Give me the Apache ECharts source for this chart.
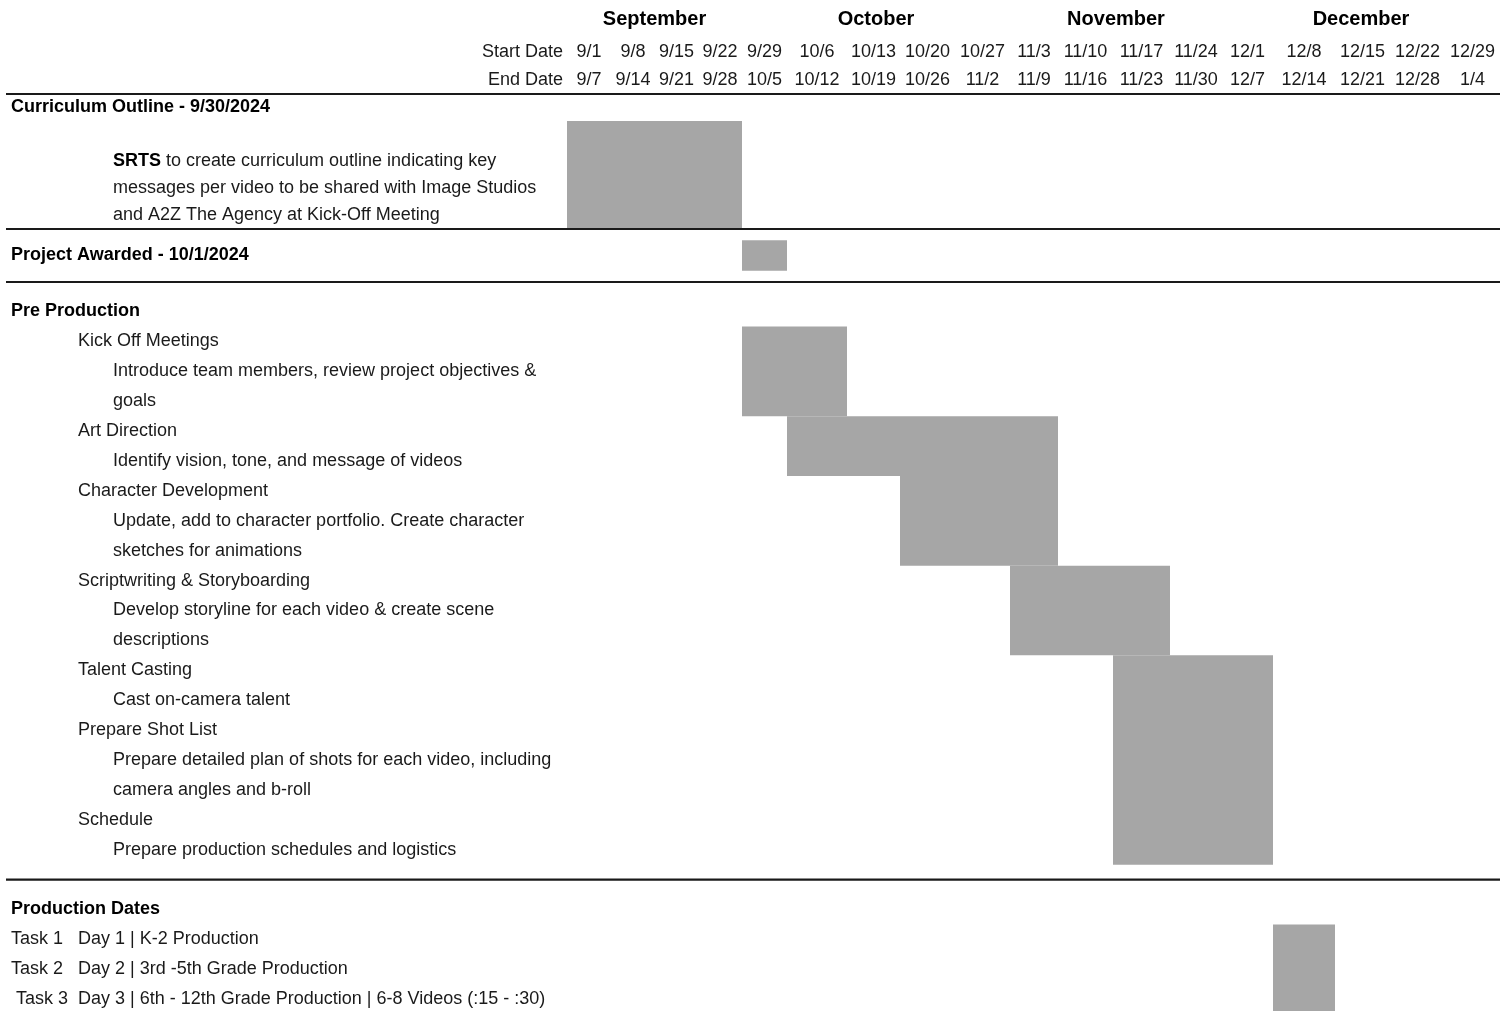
<!DOCTYPE html>
<html><head><meta charset="utf-8">
<script src="https://cdn.jsdelivr.net/npm/echarts@6/dist/echarts.min.js"></script>
<style>html,body{margin:0;padding:0;background:#fff}#c{width:1500px;height:1011px}</style>
</head><body><div id="c"></div>
<script>
// ---------------- data ----------------
const months = ['September', 'October', 'November', 'December'];
const monthWeekCounts = [4, 5, 4, 5];
const weekStarts = ['9/1','9/8','9/15','9/22','9/29','10/6','10/13','10/20','10/27','11/3','11/10','11/17','11/24','12/1','12/8','12/15','12/22','12/29'];
const weekEnds = ['9/7','9/14','9/21','9/28','10/5','10/12','10/19','10/26','11/2','11/9','11/16','11/23','11/30','12/7','12/14','12/21','12/28','1/4'];

const rowLabels = [
  'Curriculum Outline - 9/30/2024',
  '',
  'SRTS to create curriculum outline indicating key',
  'messages per video to be shared with Image Studios',
  'and A2Z The Agency at Kick-Off Meeting',
  'Project Awarded - 10/1/2024',
  'Pre Production',
  'Kick Off Meetings',
  'Introduce team members, review project objectives &',
  'goals',
  'Art Direction',
  'Identify vision, tone, and message of videos',
  'Character Development',
  'Update, add to character portfolio. Create character',
  'sketches for animations',
  'Scriptwriting & Storyboarding',
  'Develop storyline for each video & create scene',
  'descriptions',
  'Talent Casting',
  'Cast on-camera talent',
  'Prepare Shot List',
  'Prepare detailed plan of shots for each video, including',
  'camera angles and b-roll',
  'Schedule',
  'Prepare production schedules and logistics',
  '',
  'Production Dates',
  'Task 1\tDay 1 | K-2 Production',
  'Task 2\tDay 2 | 3rd -5th Grade Production',
  ' Task 3\tDay 3 | 6th - 12th Grade Production | 6-8 Videos (:15 - :30)'
];
const rowKinds = [
  'section','blank','descLead','desc','desc',
  'section',
  'section','task','desc','desc','task','desc','task','desc','desc',
  'task','desc','desc','task','desc','task','desc','desc','task','desc',
  'blank','section','taskLine','taskLine','taskLine'
];

const barNames = ['Curriculum Outline','Project Awarded','Kick Off Meetings','Art Direction','Character Development','Scriptwriting & Storyboarding','Talent Casting / Shot List / Schedule','Production Dates'];
const barStartWeek = ['9/1','9/29','9/29','10/6','10/20','11/3','11/17','12/8'];
const barEndWeek = ['9/28','10/5','10/12','11/9','11/9','11/23','12/7','12/14'];
const barFirstRow = [1, 5, 7, 10, 12, 15, 18, 27];
const barLastRow = [4, 5, 9, 11, 14, 17, 24, 29];

// ---------------- layout / style ----------------
const FONT = "'Liberation Sans', Arial, sans-serif";
const FS = 18;
const TEXT = '#1a1a1a';
const BAR = '#a6a6a6';
const colEdges = [567, 611, 655, 698, 742, 787, 847, 900, 955, 1010, 1058, 1113, 1170, 1222, 1273, 1335, 1390, 1445, 1500];
// table sections: row ranges, top, row height, bar fill fraction
const sectionRanges = [[0, 4], [5, 5], [6, 29]];
const sectionTop = [94, 229, 296.55];
const sectionRowH = [27, 53, 29.9];
const sectionBarFill = [1, 0.58, 1];
const WEEK_MARGIN = 0;
const MONTH_MARGIN = 61;
// separators: [section, local row, offset in rows from row centre]
const separators = [[0, 0, -0.5], [0, 4, 0.5], [1, 0, 0.5], [2, 19, 0]];

const chart = echarts.init(document.getElementById('c'), null, { renderer: 'canvas' });

const grids = [], xAxes = [], yAxes = [], series = [];
function addGrid(g) {
  grids.push(Object.assign({ containLabel: false, outerBoundsMode: 'none' }, g));
  return grids.length - 1;
}
const noLine = { axisLine: { show: false }, axisTick: { show: false }, splitLine: { show: false } };

function fmtRow(gIdx) {
  const kind = rowKinds[gIdx];
  const txt = rowLabels[gIdx];
  if (kind === 'section') return '{h|' + txt + '}';
  if (kind === 'task') return '{t|' + txt + '}';
  if (kind === 'desc') return '{d|' + txt + '}';
  if (kind === 'descLead') {
    const sp = txt.indexOf(' ');
    return '{db|' + txt.slice(0, sp) + '}{d0|' + txt.slice(sp) + '}';
  }
  if (kind === 'taskLine') {
    const p = txt.split('\t');
    return '{k|' + p[0] + '}{d0|' + p[1] + '}';
  }
  return '';
}
const richStyles = {
  h: { fontFamily: FONT, fontSize: FS, fontWeight: 'bold', color: '#000' },
  t: { fontFamily: FONT, fontSize: FS, color: TEXT, padding: [0, 0, 0, 67] },
  d: { fontFamily: FONT, fontSize: FS, color: TEXT, padding: [0, 0, 0, 102] },
  db: { fontFamily: FONT, fontSize: FS, color: '#000', fontWeight: 'bold', padding: [0, 0, 0, 102] },
  d0: { fontFamily: FONT, fontSize: FS, color: TEXT },
  k: { fontFamily: FONT, fontSize: FS, color: TEXT, width: 67 }
};

const bStart = barStartWeek.map(d => weekStarts.indexOf(d));
const bEnd = barEndWeek.map(d => weekEnds.indexOf(d));

sectionRanges.forEach(([a, b], s) => {
  const rows = rowLabels.slice(a, b + 1);
  const top = sectionTop[s];
  const h = rows.length * sectionRowH[s];

  // label grid for this section
  const gl = addGrid({ left: 6, width: 1494, top: top, height: h });
  xAxes.push({ type: 'value', min: 0, max: 1, show: false, gridIndex: gl });
  yAxes.push(Object.assign({
    type: 'category', data: rows, inverse: true, gridIndex: gl,
    axisLabel: {
      show: true, inside: true, margin: 5, align: 'left', interval: 0,
      fontFamily: FONT, fontSize: FS, color: TEXT,
      formatter: (v, i) => fmtRow(a + i),
      rich: richStyles
    }
  }, noLine));
  series.push({
    type: 'custom', xAxisIndex: gl, yAxisIndex: gl, z: 10, silent: true,
    encode: { x: 0, y: 1 },
    data: separators.filter(sp => sp[0] === s).map(sp => [0, sp[1], sp[2]]),
    renderItem: function (params, api) {
      const cs = params.coordSys;
      const yc = api.coord([0, api.value(1)])[1];
      const band = api.size([0, 1])[1];
      const y = yc + band * api.value(2);
      return {
        type: 'line',
        shape: { x1: cs.x, y1: y, x2: cs.x + cs.width, y2: y },
        style: { stroke: '#1a1a1a', lineWidth: 2.2 }
      };
    }
  });

  // week column grids for this section
  weekStarts.forEach((ws, c) => {
    const gi = addGrid({ left: colEdges[c], width: colEdges[c + 1] - colEdges[c], top: top, height: h });
    xAxes.push(Object.assign({
      type: 'category', data: [ws], position: 'top', gridIndex: gi, show: s === 0,
      axisLabel: {
        show: s === 0, interval: 0, margin: WEEK_MARGIN,
        fontFamily: FONT, fontSize: FS, color: TEXT, lineHeight: 28,
        formatter: () => weekStarts[c] + '\n' + weekEnds[c]
      }
    }, noLine));
    yAxes.push({ type: 'category', data: rows, inverse: true, show: false, gridIndex: gi });
    const data = [];
    barNames.forEach((n, i) => {
      if (bStart[i] <= c && c <= bEnd[i] && barFirstRow[i] >= a && barFirstRow[i] <= b) {
        data.push({ name: n, value: [0, barFirstRow[i] - a, barLastRow[i] - a] });
      }
    });
    const fill = sectionBarFill[s];
    series.push({
      type: 'custom', xAxisIndex: gi, yAxisIndex: gi, z: 2, silent: true,
      encode: { x: 0, y: [1, 2] },
      data: data,
      renderItem: function (params, api) {
        const p0 = api.coord([api.value(0), api.value(1)]);
        const p1 = api.coord([api.value(0), api.value(2)]);
        const sz = api.size([1, 1]);
        let y = p0[1] - sz[1] / 2;
        let hh = p1[1] - p0[1] + sz[1];
        const inset = hh * (1 - fill) / 2;
        return {
          type: 'rect',
          shape: { x: p0[0] - sz[0] / 2, y: y + inset, width: sz[0], height: hh - 2 * inset },
          style: { fill: BAR }
        };
      }
    });
  });
});

// month header grids
let wk = 0;
months.forEach((m, mi) => {
  const a = wk, b = wk + monthWeekCounts[mi];
  wk = b;
  const gi = addGrid({ left: colEdges[a], width: colEdges[b] - colEdges[a], top: sectionTop[0], height: 10 });
  xAxes.push(Object.assign({
    type: 'category', data: [m], position: 'top', gridIndex: gi,
    axisLabel: { show: true, interval: 0, margin: MONTH_MARGIN, fontFamily: FONT, fontSize: 20, fontWeight: 'bold', color: '#000', lineHeight: 28 }
  }, noLine));
  yAxes.push({ type: 'value', show: false, gridIndex: gi });
});

const endY = sectionTop[0] - WEEK_MARGIN - 14;
chart.setOption({
  animation: false,
  backgroundColor: '#fff',
  grid: grids, xAxis: xAxes, yAxis: yAxes, series: series,
  graphic: [
    { type: 'text', x: colEdges[0] - 4, y: endY - 28, style: { text: 'Start Date', font: FS + 'px ' + FONT, fill: TEXT, align: 'right', verticalAlign: 'middle' } },
    { type: 'text', x: colEdges[0] - 4, y: endY, style: { text: 'End Date', font: FS + 'px ' + FONT, fill: TEXT, align: 'right', verticalAlign: 'middle' } }
  ]
});
</script></body></html>
